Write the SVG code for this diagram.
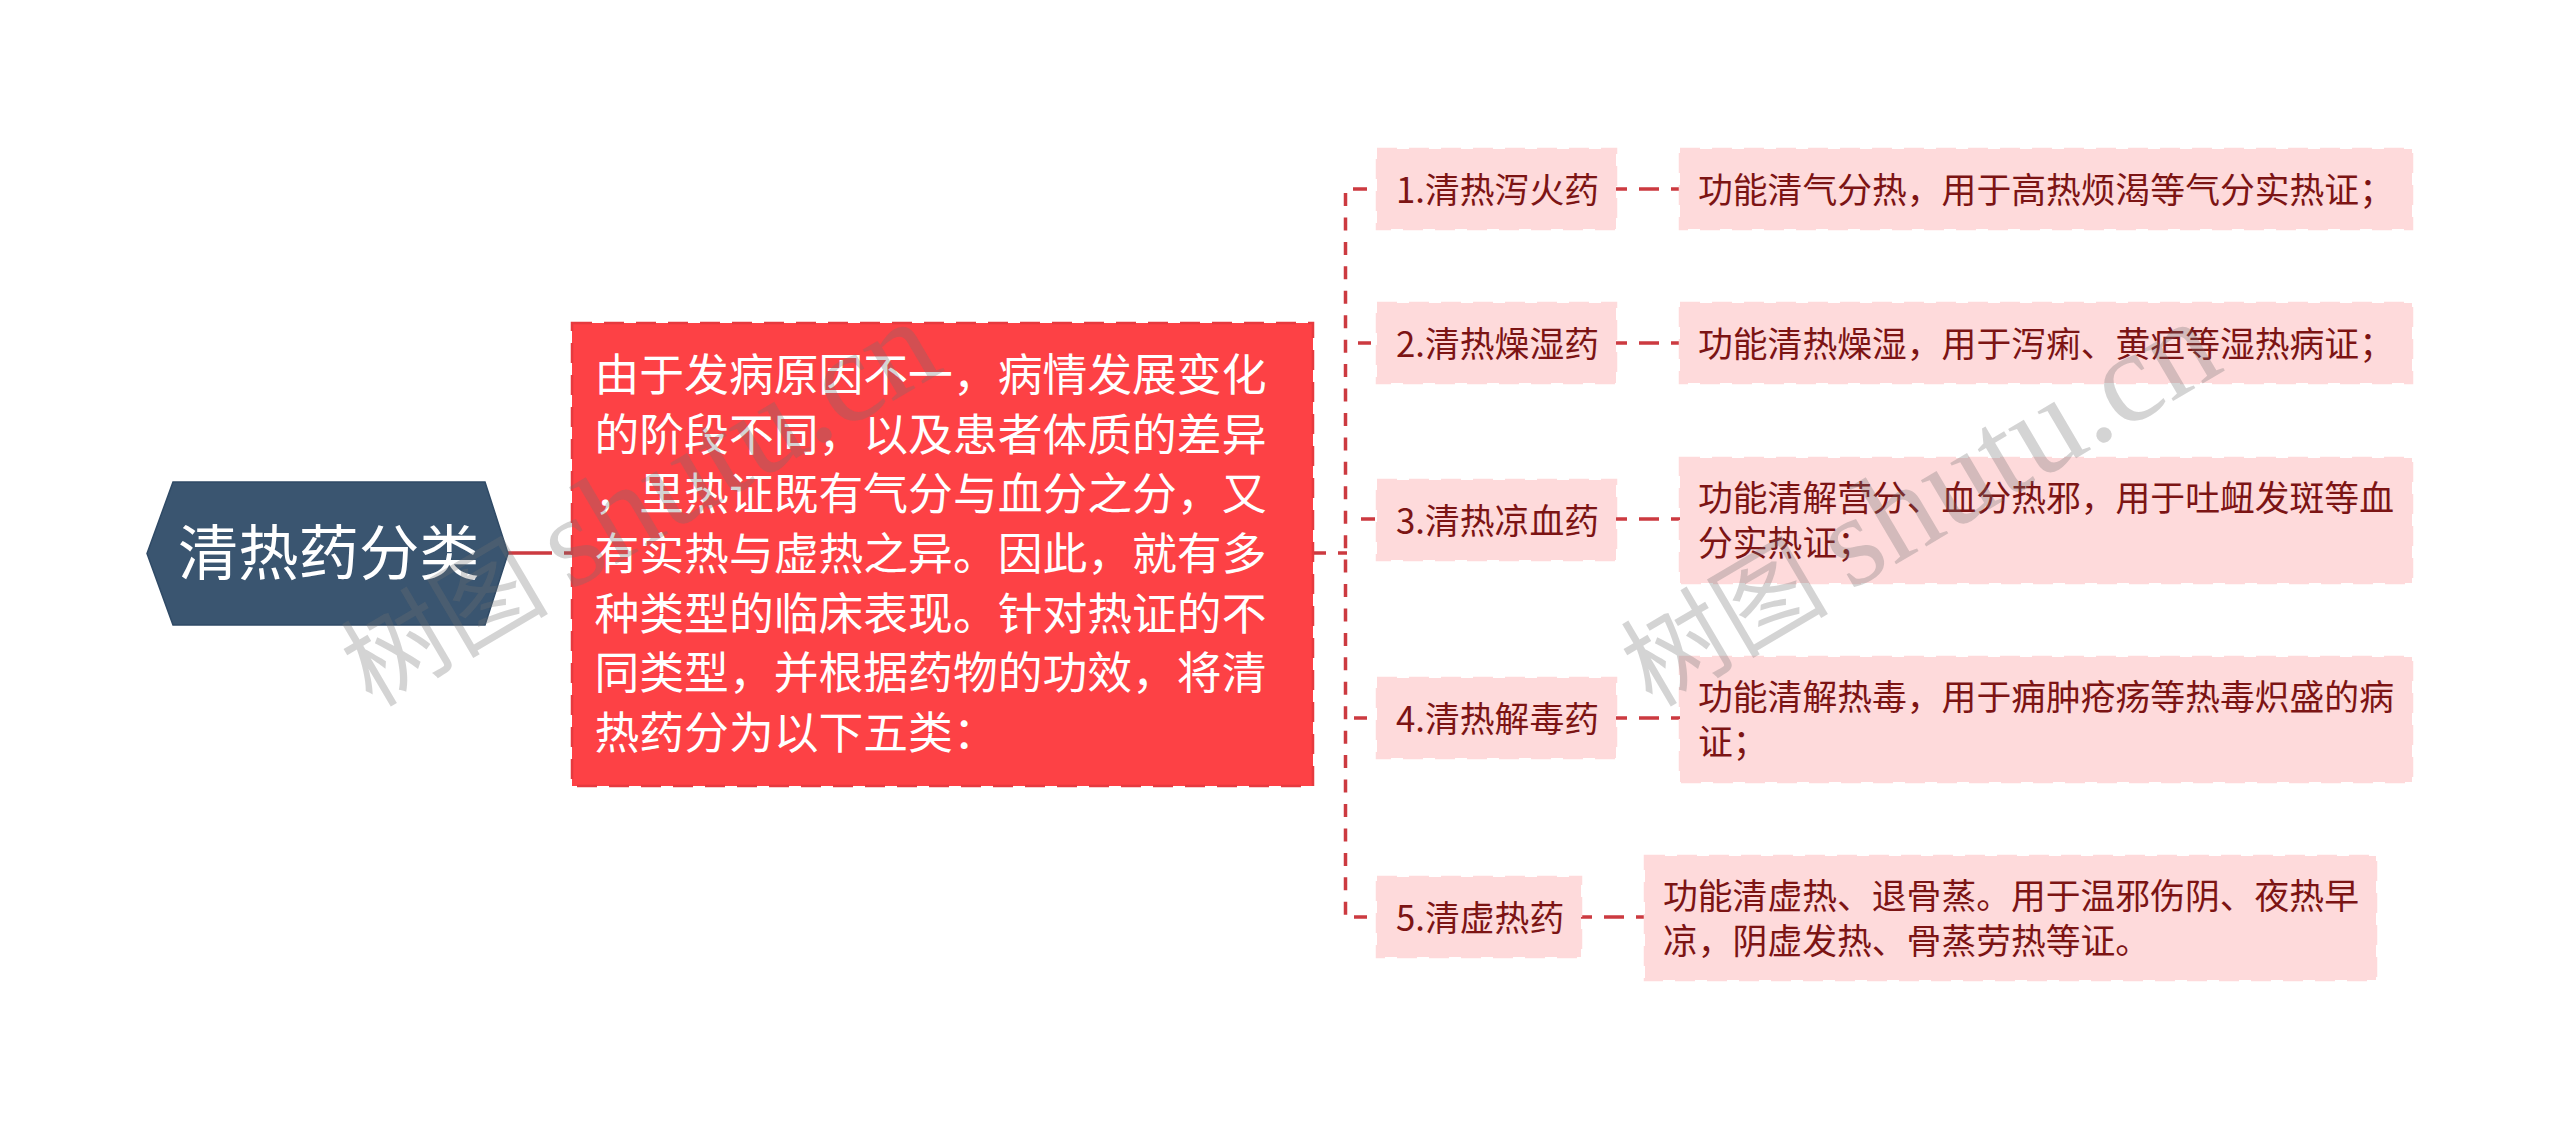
<svg xmlns="http://www.w3.org/2000/svg" width="2560" height="1129" viewBox="0 0 2560 1129">
<style>
text{font-family:"Noto Sans CJK SC","Liberation Sans",sans-serif}
.n{fill:#fedadb;stroke:#fedadb;stroke-width:2.500;stroke-dasharray:20 12}
.t{font-size:34.800px;fill:#7c1414}
.c{fill:none;stroke:#cc3a40;stroke-width:3.500}
.h{stroke-dasharray:20 12;stroke-dashoffset:9}
.w{font-family:"Liberation Serif","Noto Sans CJK SC",serif;fill:#707070;fill-opacity:.3}
.wc{font-size:104px}
.wl{font-size:130px}
</style>
<rect width="2560" height="1129" fill="#fff"/>
<g id="connectors">
<path class="c" stroke-width="4" d="M508 553H552M564 553H572"/>
<path class="c" d="M1313 553H1326M1338 553H1347"/>
<path class="c" d="M1345.500 193V915" stroke-dasharray="13 11.440"/>
<path class="c" d="M1353 189H1367M1358 343H1371M1361 519H1375M1354 718H1367M1354 917H1367"/>
<path class="c h" d="M1616 189H1680"/>
<path class="c h" d="M1616 343H1680"/>
<path class="c h" d="M1616 519H1680"/>
<path class="c h" d="M1616 718H1680"/>
<path class="c h" d="M1581 917H1645"/>
</g>
<g id="root">
<polygon points="147,553.500 173,482 485,482 508,553.500 485,625 173,625" fill="#3a5570" stroke="#2f4a66" stroke-width="1.500"/>
<text x="178" y="575" font-size="60.300" fill="#fff">清热药分类</text>
</g>
<g id="main">
<rect x="572" y="323" width="741" height="463" fill="#fd4145" stroke="#e63a3f" stroke-width="2.500" stroke-dasharray="20 12"/>
<g font-size="44.800" fill="#fff">
<text x="594.500" y="391">由于发病原因不一，病情发展变化</text>
<text x="594.500" y="450.500">的阶段不同，以及患者体质的差异</text>
<text x="594.500" y="510">，里热证既有气分与血分之分，又</text>
<text x="594.500" y="570">有实热与虚热之异。因此，就有多</text>
<text x="594.500" y="629.500">种类型的临床表现。针对热证的不</text>
<text x="594.500" y="689">同类型，并根据药物的功效，将清</text>
<text x="594.500" y="749">热药分为以下五类：</text>
</g>
</g>
<g id="n1"><rect class="n" x="1377" y="149" width="239" height="80"/><text class="t" x="1396" y="203">1.清热泻火药</text></g>
<g id="d1"><rect class="n" x="1680" y="149" width="732" height="80"/><text class="t" x="1698" y="203">功能清气分热，用于高热烦渴等气分实热证；</text></g>
<g id="n2"><rect class="n" x="1377" y="303" width="239" height="80"/><text class="t" x="1396" y="357">2.清热燥湿药</text></g>
<g id="d2"><rect class="n" x="1680" y="303" width="732" height="80"/><text class="t" x="1698" y="357">功能清热燥湿，用于泻痢、黄疸等湿热病证；</text></g>
<g id="n3"><rect class="n" x="1377" y="480" width="239" height="80"/><text class="t" x="1396" y="534">3.清热凉血药</text></g>
<g id="d3"><rect class="n" x="1680" y="458" width="732" height="125"/><text class="t" x="1698" y="511">功能清解营分、血分热邪，用于吐衄发斑等血</text><text class="t" x="1698" y="556">分实热证；</text></g>
<g id="n4"><rect class="n" x="1377" y="678" width="239" height="80"/><text class="t" x="1396" y="732">4.清热解毒药</text></g>
<g id="d4"><rect class="n" x="1680" y="657" width="732" height="125"/><text class="t" x="1698" y="710">功能清解热毒，用于痈肿疮疡等热毒炽盛的病</text><text class="t" x="1698" y="755">证；</text></g>
<g id="n5"><rect class="n" x="1377" y="877" width="204" height="80"/><text class="t" x="1396" y="931">5.清虚热药</text></g>
<g id="d5"><rect class="n" x="1645" y="856" width="731" height="124"/><text class="t" x="1663" y="909">功能清虚热、退骨蒸。用于温邪伤阴、夜热早</text><text class="t" x="1663" y="954">凉，阴虚发热、骨蒸劳热等证。</text></g>
<g id="watermarks">
<g transform="translate(372 708) rotate(-30.500)"><text class="w wc">树图</text><text class="w wl" x="230">shutu.cn</text></g>
<g transform="translate(1652 708) rotate(-30.500)"><text class="w wc">树图</text><text class="w wl" x="230">shutu.cn</text></g>
</g>
</svg>
